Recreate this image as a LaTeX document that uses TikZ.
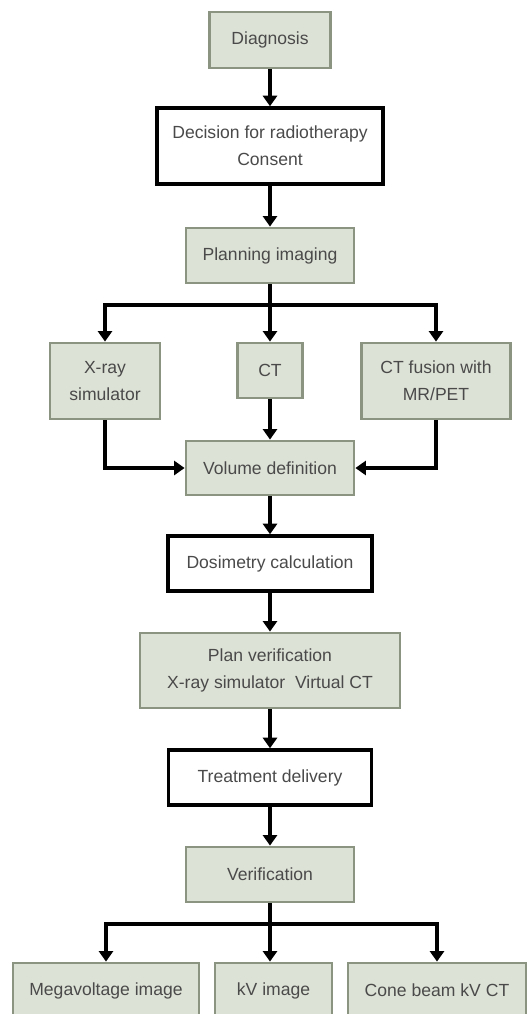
\documentclass[tikz,border=0pt]{standalone}
\usepackage{fontspec}
\setmainfont{Liberation Sans}
\usetikzlibrary{arrows.meta}

\definecolor{boxfill}{HTML}{DDE2D6}
\definecolor{boxline}{HTML}{8A9480}
\definecolor{boxtext}{HTML}{4A4A4A}

\begin{document}
\begin{tikzpicture}
  [x=0.02cm, y=-0.02cm,
   greenbox/.style={rectangle, draw=boxline, fill=boxfill, line width=1.6pt,
     text=boxtext, align=center, inner sep=0pt,
     font=\fontsize{10}{15.5}\selectfont},
   whitebox/.style={greenbox, draw=black, fill=white, line width=2pt},
   flow/.style={line width=2.2pt, -{Triangle[width=8pt,length=6pt]}},
   branch/.style={line width=2.2pt}]
  \useasboundingbox (0,0) rectangle (530,1014);
  \clip (0,0) rectangle (530,1014);

  \node[greenbox, minimum width=2.42cm, minimum height=1.12cm] (diag) at (270,40) {Diagnosis};
  \node[whitebox, minimum width=4.52cm, minimum height=1.52cm] (decision) at (270,146) {Decision for radiotherapy\\Consent};
  \node[greenbox, minimum width=3.36cm, minimum height=1.1cm] (planimg) at (270,255.5) {Planning imaging};

  \node[greenbox, minimum width=2.2cm, minimum height=1.52cm] (xray) at (105,381) {X-ray\\simulator};
  \node[greenbox, minimum width=1.3cm, minimum height=1.1cm] (ct) at (270,370.5) {CT};
  \node[greenbox, minimum width=2.98cm, minimum height=1.52cm] (fusion) at (436,381) {CT fusion with\\MR/PET};

  \node[greenbox, minimum width=3.36cm, minimum height=1.08cm] (volume) at (270,468) {Volume definition};
  \node[whitebox, minimum width=4.08cm, minimum height=1.1cm] (dosim) at (270,563.5) {Dosimetry calculation};
  \node[greenbox, minimum width=5.2cm, minimum height=1.5cm] (planver) at (270,670.5) {Plan verification\\X-ray simulator~~Virtual CT};
  \node[whitebox, minimum width=4.06cm, minimum height=1.1cm] (treat) at (270,777.5) {Treatment delivery};
  \node[greenbox, minimum width=3.36cm, minimum height=1.1cm] (verif) at (270,874.5) {Verification};

  \node[greenbox, minimum width=3.72cm, minimum height=1.1cm] (mega) at (106,990.5) {Megavoltage image};
  \node[greenbox, minimum width=2.34cm, minimum height=1.1cm] (kv) at (273.5,990.5) {kV image};
  \node[greenbox, minimum width=3.56cm, minimum height=1.1cm] (cone) at (437,990.5) {Cone beam kV CT};

  \coordinate (split1) at (270,305);
  \coordinate (split2) at (270,924);

  \draw[flow] (diag) -- (decision);
  \draw[flow] (decision) -- (planimg);
  \draw[flow] (planimg) -- (ct);
  \draw[flow] (split1) -| (xray);
  \draw[flow] (split1) -| (fusion);
  \draw[flow] (ct) -- (volume);
  \draw[flow] (xray) |- (volume);
  \draw[flow] (fusion) |- (volume);
  \draw[flow] (volume) -- (dosim);
  \draw[flow] (dosim) -- (planver);
  \draw[flow] (planver) -- (treat);
  \draw[flow] (treat) -- (verif);
  \draw[flow] (verif) -- (verif |- kv.north);
  \draw[flow] (split2) -| (mega);
  \draw[flow] (split2) -| (cone);
\end{tikzpicture}
\end{document}
